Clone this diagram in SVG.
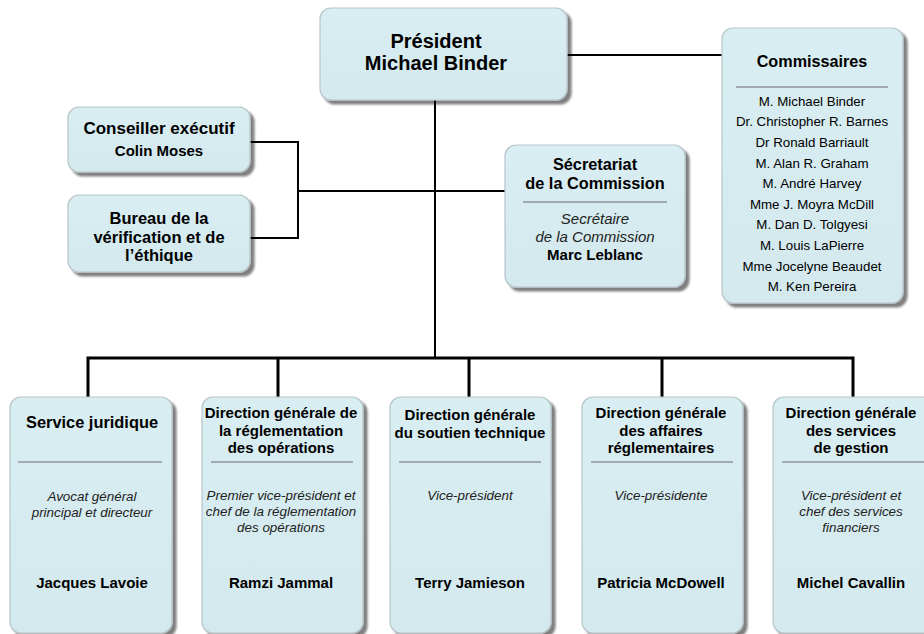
<svg xmlns="http://www.w3.org/2000/svg" width="924" height="634" viewBox="0 0 924 634">
<defs>
<filter id="sh" x="-10%" y="-10%" width="130%" height="130%">
<feGaussianBlur in="SourceAlpha" stdDeviation="1.2"/>
<feOffset dx="4" dy="4" result="o"/>
<feComponentTransfer><feFuncA type="linear" slope="0.5"/></feComponentTransfer>
<feMerge><feMergeNode/><feMergeNode in="SourceGraphic"/></feMerge>
</filter>
<linearGradient id="fill" x1="0" y1="0" x2="0" y2="1">
<stop offset="0" stop-color="#d9eef2"/>
<stop offset="1" stop-color="#d3e9ee"/>
</linearGradient>
</defs>
<style>
.box{fill:url(#fill);stroke:#b7c5c9;stroke-width:1.2;filter:url(#sh)}
.sep{stroke:#8f9597;stroke-width:1.5}
.c{fill:none;stroke:#000;stroke-width:2}
.bus{fill:none;stroke:#000;stroke-width:3}
text{font-family:"Liberation Sans",Arial,sans-serif;fill:#000;text-anchor:middle}
.b{font-weight:bold}
.i{font-style:italic;fill:#222}
</style>
<rect width="924" height="634" fill="#fff"/>
<g id="connectors">
<path class="c" d="M435 100V358"/>
<path class="c" d="M567 55H722" stroke-width="1.6"/>
<path class="c" d="M250 142H298V238H250M298 191H505" stroke-width="2.4"/>
<path class="bus" d="M88 397V358H853V397M278 358V397M469 358V397M662 358V397"/>
</g>
<g id="president">
<rect class="box" x="320" y="8" width="247" height="92" rx="11"/>
<text class="b" x="436" y="48" font-size="20">Président</text>
<text class="b" x="436" y="70" font-size="20">Michael Binder</text>
</g>
<g id="commissaires">
<rect class="box" x="722" y="28" width="181" height="275" rx="11"/>
<text class="b" x="812" y="67" font-size="16.2">Commissaires</text>
<line class="sep" x1="736" y1="87" x2="888" y2="87" stroke-width="1"/>
<g font-size="13.3">
<text x="812" y="105.5">M. Michael Binder</text>
<text x="812" y="126.2">Dr. Christopher R. Barnes</text>
<text x="812" y="146.8">Dr Ronald Barriault</text>
<text x="812" y="167.5">M. Alan R. Graham</text>
<text x="812" y="188.1">M. André Harvey</text>
<text x="812" y="208.8">Mme J. Moyra McDill</text>
<text x="812" y="229.4">M. Dan D. Tolgyesi</text>
<text x="812" y="250.1">M. Louis LaPierre</text>
<text x="812" y="270.7">Mme Jocelyne Beaudet</text>
<text x="812" y="291.4">M. Ken Pereira</text>
</g>
</g>
<g id="conseiller">
<rect class="box" x="68" y="107" width="182" height="65" rx="11"/>
<text class="b" x="159" y="134" font-size="17">Conseiller exécutif</text>
<text class="b" x="159" y="156" font-size="15">Colin Moses</text>
</g>
<g id="bureau">
<rect class="box" x="68" y="195" width="182" height="77" rx="11"/>
<text class="b" x="159" y="224" font-size="16.5">Bureau de la</text>
<text class="b" x="159" y="243" font-size="16.5">vérification et de</text>
<text class="b" x="159" y="261" font-size="16.5">l’éthique</text>
</g>
<g id="secretariat">
<rect class="box" x="505" y="145" width="180" height="142" rx="11"/>
<text class="b" x="595" y="170" font-size="16.3">Sécretariat</text>
<text class="b" x="595" y="189" font-size="16.3">de la Commission</text>
<line class="sep" x1="523" y1="202" x2="667" y2="202" stroke-width="1"/>
<text class="i" x="595" y="224" font-size="15">Secrétaire</text>
<text class="i" x="595" y="242" font-size="15">de la Commission</text>
<text class="b" x="595" y="260" font-size="15">Marc Leblanc</text>
</g>
<g id="juridique">
<rect class="box" x="10" y="397" width="162" height="236" rx="11"/>
<text class="b" x="92" y="428" font-size="16.4">Service juridique</text>
<line class="sep" x1="18" y1="462" x2="162" y2="462"/>
<text class="i" x="92" y="501" font-size="13.4">Avocat général</text>
<text class="i" x="92" y="517" font-size="13.4">principal et directeur</text>
<text class="b" x="92" y="588" font-size="15">Jacques Lavoie</text>
</g>
<g id="reglementation">
<rect class="box" x="202" y="397" width="161" height="236" rx="11"/>
<text class="b" x="281" y="418" font-size="15">Direction générale de</text>
<text class="b" x="281" y="436" font-size="15">la réglementation</text>
<text class="b" x="281" y="453" font-size="15">des opérations</text>
<line class="sep" x1="211" y1="462" x2="353" y2="462"/>
<text class="i" x="281" y="500" font-size="13.4">Premier vice-président et</text>
<text class="i" x="281" y="516" font-size="13.4">chef de la réglementation</text>
<text class="i" x="281" y="532" font-size="13.4">des opérations</text>
<text class="b" x="281" y="588" font-size="15">Ramzi Jammal</text>
</g>
<g id="soutien">
<rect class="box" x="390" y="397" width="161" height="236" rx="11"/>
<text class="b" x="470" y="420" font-size="15">Direction générale</text>
<text class="b" x="470" y="438" font-size="15">du soutien technique</text>
<line class="sep" x1="399" y1="462" x2="541" y2="462"/>
<text class="i" x="470" y="500" font-size="13.4">Vice-président</text>
<text class="b" x="470" y="588" font-size="15">Terry Jamieson</text>
</g>
<g id="affaires">
<rect class="box" x="582" y="397" width="161" height="236" rx="11"/>
<text class="b" x="661" y="418" font-size="15">Direction générale</text>
<text class="b" x="661" y="436" font-size="15">des affaires</text>
<text class="b" x="661" y="453" font-size="15">réglementaires</text>
<line class="sep" x1="591" y1="462" x2="733" y2="462"/>
<text class="i" x="661" y="500" font-size="13.4">Vice-présidente</text>
<text class="b" x="661" y="588" font-size="15">Patricia McDowell</text>
</g>
<g id="gestion">
<rect class="box" x="773" y="397" width="161" height="236" rx="11"/>
<text class="b" x="851" y="418" font-size="15">Direction générale</text>
<text class="b" x="851" y="436" font-size="15">des services</text>
<text class="b" x="851" y="453" font-size="15">de gestion</text>
<line class="sep" x1="782" y1="462" x2="924" y2="462"/>
<text class="i" x="851" y="500" font-size="13.4">Vice-président et</text>
<text class="i" x="851" y="516" font-size="13.4">chef des services</text>
<text class="i" x="851" y="532" font-size="13.4">financiers</text>
<text class="b" x="851" y="588" font-size="15">Michel Cavallin</text>
</g>
</svg>
